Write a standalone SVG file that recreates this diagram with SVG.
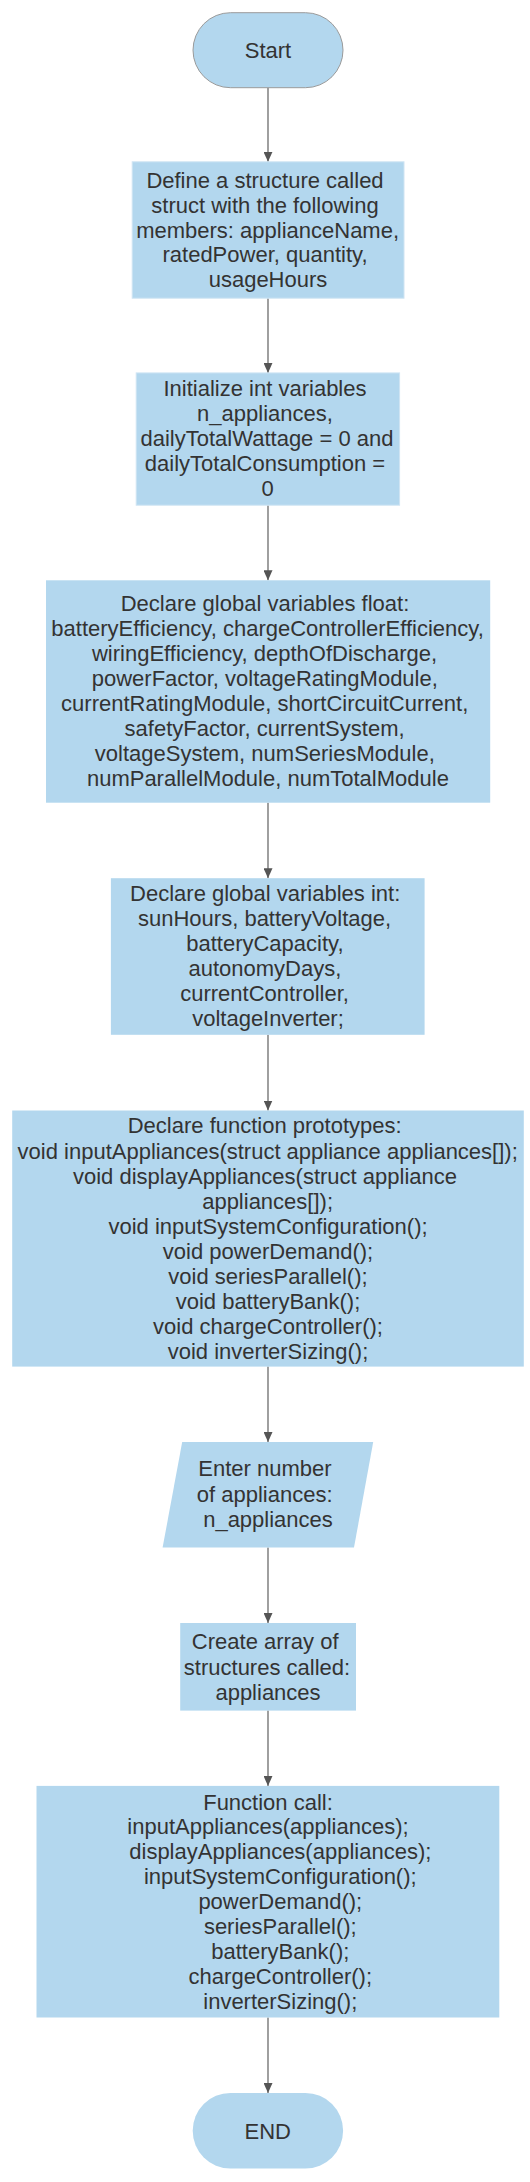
<svg xmlns="http://www.w3.org/2000/svg" width="530" height="2182" viewBox="0 0 530 2182">
<defs>
<style>
.n{fill:#b3d7ee;}
.b{fill:#b3d7ee;stroke:#cfe4f3;stroke-width:1;}
.t{font-family:"Liberation Sans",Arial,sans-serif;font-size:22px;fill:#333;text-anchor:middle;}
.c{stroke:#8f8f8f;stroke-width:1.7;fill:none;}
</style>
<marker id="ah" markerWidth="10" markerHeight="9" refX="10" refY="4.5" orient="auto" markerUnits="userSpaceOnUse">
<path d="M0,0 L10,4.5 L0,9 Z" fill="#555"/>
</marker>
</defs>
<rect width="530" height="2182" fill="#fff"/>
<g id="connectors">
<line class="c" x1="268" y1="87.5" x2="268" y2="161.8" marker-end="url(#ah)"/>
<line class="c" x1="268" y1="298.2" x2="268" y2="372.9" marker-end="url(#ah)"/>
<line class="c" x1="268" y1="505.2" x2="268" y2="580.3" marker-end="url(#ah)"/>
<line class="c" x1="268" y1="802.7" x2="268" y2="878.2" marker-end="url(#ah)"/>
<line class="c" x1="268" y1="1034.8" x2="268" y2="1110.5" marker-end="url(#ah)"/>
<line class="c" x1="268" y1="1366.6" x2="268" y2="1442" marker-end="url(#ah)"/>
<line class="c" x1="268" y1="1547.6" x2="268" y2="1623" marker-end="url(#ah)"/>
<line class="c" x1="268" y1="1710.6" x2="268" y2="1785.9" marker-end="url(#ah)"/>
<line class="c" x1="268" y1="2017.5" x2="268" y2="2093" marker-end="url(#ah)"/>
</g>
<g id="start">
<rect x="193" y="12.7" width="150" height="75" rx="37.5" fill="#b3d7ee" stroke="#9a9a9a" stroke-width="1"/>
<text class="t" x="268" y="58.2">Start</text>
</g>
<g id="define-struct">
<rect class="b" x="132.2" y="161.8" width="271.8" height="136.4"/>
<text class="t" x="265" y="187.7">Define a structure called</text>
<text class="t" x="265" y="212.5">struct with the following</text>
<text class="t" x="267.6" y="237.6">members: applianceName,</text>
<text class="t" x="265" y="262.4">ratedPower, quantity,</text>
<text class="t" x="268" y="287.2">usageHours</text>
</g>
<g id="init-vars">
<rect class="b" x="136.2" y="372.9" width="263.4" height="132.3"/>
<text class="t" x="265" y="396">Initialize int variables</text>
<text class="t" x="265" y="420.8">n_appliances,</text>
<text class="t" x="267" y="446.3">dailyTotalWattage = 0 and</text>
<text class="t" x="265" y="471.1">dailyTotalConsumption =</text>
<text class="t" x="267.7" y="495.9">0</text>
</g>
<g id="float-vars">
<rect class="n" x="46" y="580.3" width="444.2" height="222.4"/>
<text class="t" x="265" y="611.3">Declare global variables float:</text>
<text class="t" x="267.6" y="636.4">batteryEfficiency, chargeControllerEfficiency,</text>
<text class="t" x="264.6" y="661.2">wiringEfficiency, depthOfDischarge,</text>
<text class="t" x="264.8" y="686">powerFactor, voltageRatingModule,</text>
<text class="t" x="264.7" y="711.1">currentRatingModule, shortCircuitCurrent,</text>
<text class="t" x="264.6" y="735.9">safetyFactor, currentSystem,</text>
<text class="t" x="264.8" y="760.7">voltageSystem, numSeriesModule,</text>
<text class="t" x="267.9" y="785.5">numParallelModule, numTotalModule</text>
</g>
<g id="int-vars">
<rect class="n" x="110.9" y="878.2" width="313.7" height="156.6"/>
<text class="t" x="265.2" y="900.9">Declare global variables int:</text>
<text class="t" x="264.6" y="925.7">sunHours, batteryVoltage,</text>
<text class="t" x="264.9" y="950.8">batteryCapacity,</text>
<text class="t" x="264.9" y="975.9">autonomyDays,</text>
<text class="t" x="264.6" y="1000.7">currentController,</text>
<text class="t" x="268" y="1025.5">voltageInverter;</text>
</g>
<g id="prototypes">
<rect class="n" x="12.2" y="1110.5" width="511.6" height="256.1"/>
<text class="t" x="264.7" y="1133.3">Declare function prototypes:</text>
<text class="t" x="267.7" y="1158.6">void inputAppliances(struct appliance appliances[]);</text>
<text class="t" x="265" y="1183.8">void displayAppliances(struct appliance</text>
<text class="t" x="267.6" y="1209.1">appliances[]);</text>
<text class="t" x="268" y="1234">void inputSystemConfiguration();</text>
<text class="t" x="268" y="1259.2">void powerDemand();</text>
<text class="t" x="268" y="1284.1">void seriesParallel();</text>
<text class="t" x="268" y="1309.4">void batteryBank();</text>
<text class="t" x="268" y="1334.3">void chargeController();</text>
<text class="t" x="268" y="1359.2">void inverterSizing();</text>
</g>
<g id="input-n">
<polygon class="n" points="182.2,1442 373.2,1442 354,1547.6 162.6,1547.6"/>
<text class="t" x="265" y="1476.3">Enter number</text>
<text class="t" x="264.7" y="1502">of appliances:</text>
<text class="t" x="268" y="1527.2">n_appliances</text>
</g>
<g id="create-array">
<rect class="n" x="180.2" y="1623" width="175.8" height="87.6"/>
<text class="t" x="265.2" y="1649.4">Create array of</text>
<text class="t" x="267" y="1674.7">structures called:</text>
<text class="t" x="268" y="1699.7">appliances</text>
</g>
<g id="function-call">
<rect class="n" x="36.5" y="1785.9" width="462.8" height="231.6"/>
<text class="t" x="268" y="1809.5">Function call:</text>
<text class="t" x="268" y="1834.2">inputAppliances(appliances);</text>
<text class="t" x="280.3" y="1859.1">displayAppliances(appliances);</text>
<text class="t" x="280.3" y="1884.1">inputSystemConfiguration();</text>
<text class="t" x="280.3" y="1909.1">powerDemand();</text>
<text class="t" x="280.3" y="1934.1">seriesParallel();</text>
<text class="t" x="280.3" y="1959.1">batteryBank();</text>
<text class="t" x="280.3" y="1984.1">chargeController();</text>
<text class="t" x="280.3" y="2009.1">inverterSizing();</text>
</g>
<g id="end">
<rect class="n" x="192.7" y="2093" width="150.4" height="75.5" rx="37.7"/>
<text class="t" x="267.7" y="2138.6">END</text>
</g>
</svg>
